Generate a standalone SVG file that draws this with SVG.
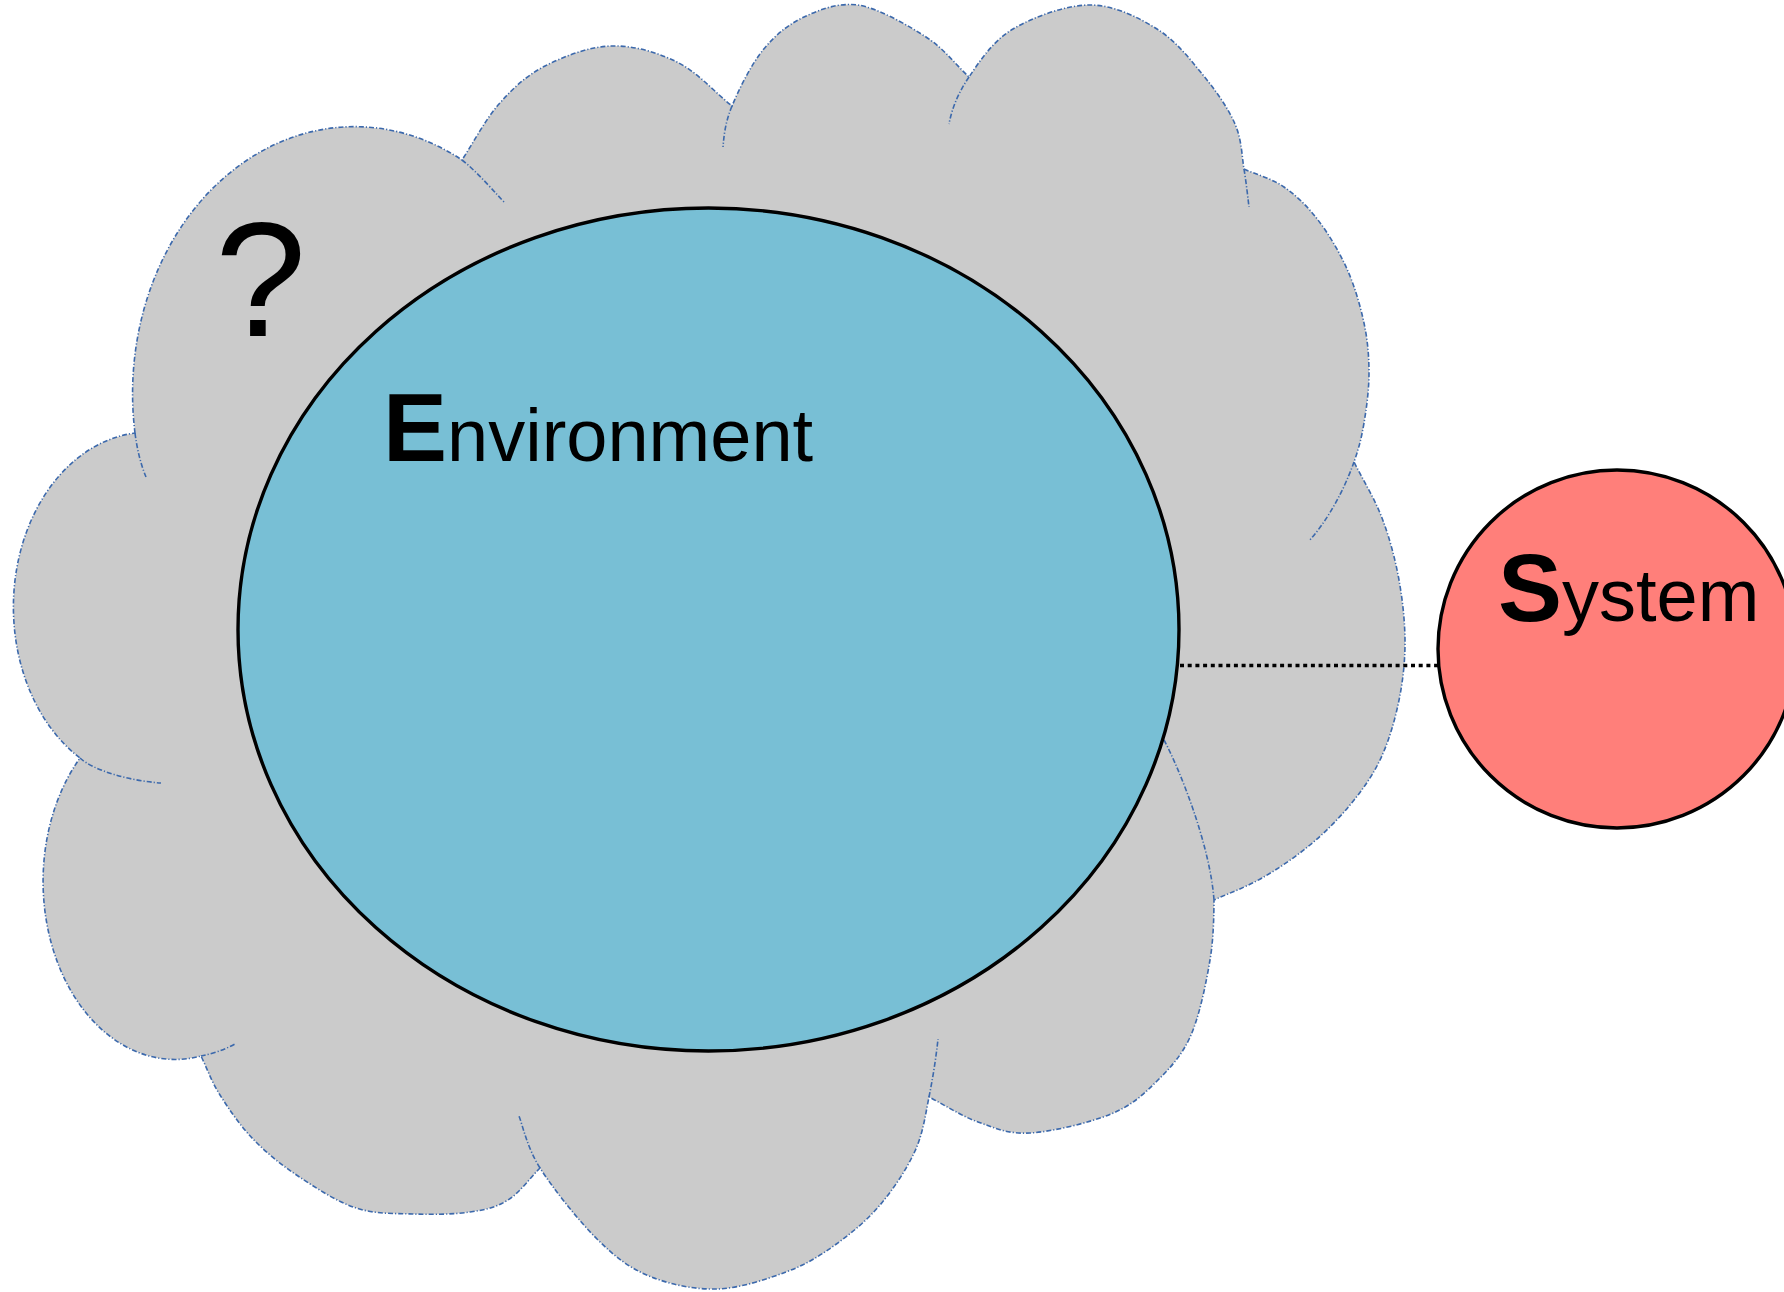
<svg xmlns="http://www.w3.org/2000/svg" width="1784" height="1292" viewBox="0 0 1784 1292">
<style>
.cl{fill:#CBCBCB;stroke:#3C69AC;stroke-width:1.6;stroke-dasharray:5 2 1.2 2}
.sp{fill:none;stroke:#3C69AC;stroke-width:1.6;stroke-dasharray:5 2 1.2 2}
.nd{stroke:#000;stroke-width:3.4}
.t{font-family:"Liberation Sans",Arial,Helvetica,sans-serif;fill:#000}
.b{font-weight:bold;font-size:96px}
.r{font-size:74px}
.conn{fill:none;stroke:#000;stroke-width:3.6;stroke-dasharray:4 3.7}
</style>
<rect width="1784" height="1292" fill="#fff"/>
<g id="cloud">
<path class="cl" d="M135,433
A222,267 0 0 1 462,160
C474.3,141.3 485.2,119.7 499,104 C512.8,88.3 526.3,75.7 545,66 C563.7,56.3 589,46.7 611,46 C633,45.3 656.8,52 677,62 C697.2,72 713.7,91.3 732,106
C738.7,89.8 751,64.8 763,50 C775,35.2 788.2,24.5 804,17 C819.8,9.5 837.7,2.5 858,5 C878.3,8.3 907.5,25 926,37 C944.5,49 954.7,63.7 969,77
C979.7,61.2 992.8,41 1013,29 C1033.2,17 1066,5 1090,5 C1114,5 1138.2,17.3 1157,29 C1175.8,40.7 1190,59.2 1203,75 C1216,90.8 1228.2,108.3 1235,124 C1241.8,139.7 1241.7,155.2 1244,169
C1257.3,175 1271.7,178.5 1284,187 C1296.3,195.5 1307.5,206.3 1318,220 C1328.5,233.7 1339.3,251.8 1347,269 C1354.7,286.2 1360.3,305.7 1364,323 C1367.7,340.3 1369,356.3 1369,373 C1369,389.7 1366.5,408.2 1364,423 C1361.5,437.8 1358.8,448.5 1354,462
C1363.3,480.7 1374.5,498.3 1382,518 C1389.5,537.7 1395.2,558.8 1399,580 C1402.8,601.2 1405.2,624.2 1405,645 C1404.8,665.8 1402.2,685.8 1398,705 C1393.8,724.2 1388,743.3 1380,760 C1372,776.7 1361.7,790.8 1350,805 C1338.3,819.2 1324.7,832.8 1310,845 C1295.3,857.2 1278,868.8 1262,878 C1246,887.2 1230,892.7 1214,900
C1213.8,914.5 1213.8,937.5 1210,960 C1206.2,982.5 1199.8,1014.8 1191,1035 C1182.2,1055.2 1170.3,1067.8 1157,1081 C1143.7,1094.2 1132.2,1105.3 1111,1114 C1089.8,1122.7 1052.2,1131.7 1030,1133 C1007.8,1134.3 994.8,1128 978,1122 C961.2,1116 945.3,1105.3 929,1097
C925.2,1115.7 923.2,1133 915,1151 C906.8,1169 893.3,1189.3 880,1205 C866.7,1220.7 850.7,1233.8 835,1245 C819.3,1256.2 805.7,1264.7 786,1272 C766.3,1279.3 739.8,1288.3 717,1289 C694.2,1289.7 669,1284.3 649,1276 C629,1267.7 615.2,1257 597,1239 C578.8,1221 553,1188.5 540,1168
C529.3,1178.7 519.7,1192.7 508,1200 C496.3,1207.3 485.8,1209.7 470,1212 C454.2,1214.3 432,1214.7 413,1214 C394,1213.3 375.2,1214.3 356,1208 C336.8,1201.7 315.2,1187.5 298,1176 C280.8,1164.5 266,1152.5 253,1139 C240,1125.5 228.7,1108.8 220,1095 C211.3,1081.2 207.3,1069 201,1056
A132,178 0 0 1 80,758
A135,175 0 0 1 135,433 Z"/>
<path class="sp" d="M135,433 C137.2,450.3 141,465 146,477"/>
<path class="sp" d="M462,160 C477.3,171.7 497.8,195.8 505,203"/>
<path class="sp" d="M732,106 C725.3,122.2 724,135 723,147"/>
<path class="sp" d="M969,77 C958.3,92.8 952,108 949,124"/>
<path class="sp" d="M1244,169 C1246.3,182.8 1248.2,200.7 1249,207"/>
<path class="sp" d="M1354,462 C1349.2,475.5 1335,512 1309,541"/>
<path class="sp" d="M1164,740 C1180,770 1210,845 1214,900"/>
<path class="sp" d="M929,1097 C932.8,1078.3 936,1058 938,1039"/>
<path class="sp" d="M540,1168 C527,1147.5 522.5,1124.7 519,1116"/>
<path class="sp" d="M201,1056 C211.5,1054 224,1050 235,1044"/>
<path class="sp" d="M80,758 C93.5,770.5 130,781 161,783"/>
<text class="t" x="215" y="336" font-size="164">?</text>
</g>
<g id="environment">
<ellipse class="nd" cx="708.5" cy="629.5" rx="470.5" ry="421.5" fill="#78BFD5"/>
<text class="t" x="383" y="461"><tspan class="b">E</tspan><tspan class="r">nvironment</tspan></text>
</g>
<g id="connectors">
<path class="conn" d="M1180,665.5 H1438"/>
</g>
<g id="system">
<circle class="nd" cx="1617" cy="649" r="179" fill="#FF7F7A"/>
<text class="t" x="1498" y="621"><tspan class="b">S</tspan><tspan class="r">ystem</tspan></text>
</g>
</svg>
